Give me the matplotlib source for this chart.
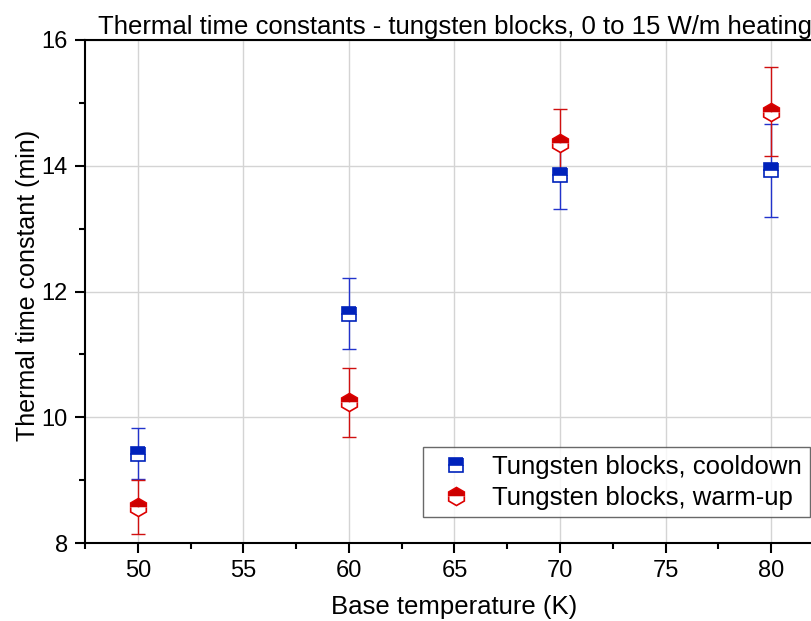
import matplotlib
matplotlib.use("Agg")
import matplotlib.pyplot as plt
from matplotlib.ticker import MultipleLocator

plt.rcParams['font.family'] = ['Liberation Sans', 'DejaVu Sans']

# base temperatures (K)
temps = [50, 60, 70, 80]

# cooldown time constants (min) and errors
cool_tau = [9.42, 11.65, 13.85, 13.93]
cool_err = [0.41, 0.57, 0.53, 0.74]

# warm-up time constants (min) and errors
warm_tau = [8.57, 10.24, 14.36, 14.86]
warm_err = [0.43, 0.55, 0.55, 0.71]

fig = plt.figure(figsize=(8.11, 6.21), dpi=100)
ax = fig.add_axes([85/811, 78/621, 739/811, 503/621])

ax.errorbar(temps, cool_tau, yerr=cool_err, fmt='none', ecolor='#2233cc',
            elinewidth=1, capsize=5, capthick=1, zorder=3)
ax.errorbar(temps, warm_tau, yerr=warm_err, fmt='none', ecolor='#d01010',
            elinewidth=1, capsize=5, capthick=1, zorder=3)

ax.plot(temps, cool_tau, ls='none', marker='s', ms=10.5, fillstyle='top',
        color='#0022bb', markerfacecoloralt='white', markeredgecolor='#0022bb',
        mew=1.2, zorder=4, label='Tungsten blocks, cooldown')
ax.plot(temps, warm_tau, ls='none', marker='h', ms=13, fillstyle='top',
        color='#cc0000', markerfacecoloralt='white', markeredgecolor='#dd0000',
        mew=1.2, zorder=4, label='Tungsten blocks, warm-up')

ax.set_xlim(47.5, 82.5)
ax.set_ylim(8, 16)
ax.xaxis.set_major_locator(MultipleLocator(5))
ax.xaxis.set_minor_locator(MultipleLocator(2.5))
ax.yaxis.set_major_locator(MultipleLocator(2))
ax.yaxis.set_minor_locator(MultipleLocator(1))

ax.grid(True, which='major', color='#d4d4d4', lw=1)
ax.set_axisbelow(True)

ax.tick_params(which='major', direction='out', length=7.5, width=1.5, labelsize=17, pad=5)
ax.tick_params(which='minor', direction='out', length=4.5, width=1.5)
ax.tick_params(top=False, right=False)
for s in ax.spines.values():
    s.set_linewidth(1.5)

ax.set_xlabel('Base temperature (K)', fontsize=18.5, labelpad=9)
ax.set_ylabel('Thermal time constant (min)', fontsize=18)
ax.yaxis.set_label_coords(-0.061, 0.513)
ax.set_title('Thermal time constants - tungsten blocks, 0 to 15 W/m heating',
             fontsize=18.5, pad=4)

leg = ax.legend(loc='upper left', bbox_to_anchor=(423/811, 1 - 447/621),
                bbox_transform=fig.transFigure, fontsize=18.5, frameon=True,
                fancybox=False, edgecolor='#444444', handletextpad=0.4,
                borderpad=0.3, labelspacing=0.27, handlelength=2.0,
                borderaxespad=0)
leg.get_frame().set_linewidth(1)

fig.savefig('out.png', dpi=100)
